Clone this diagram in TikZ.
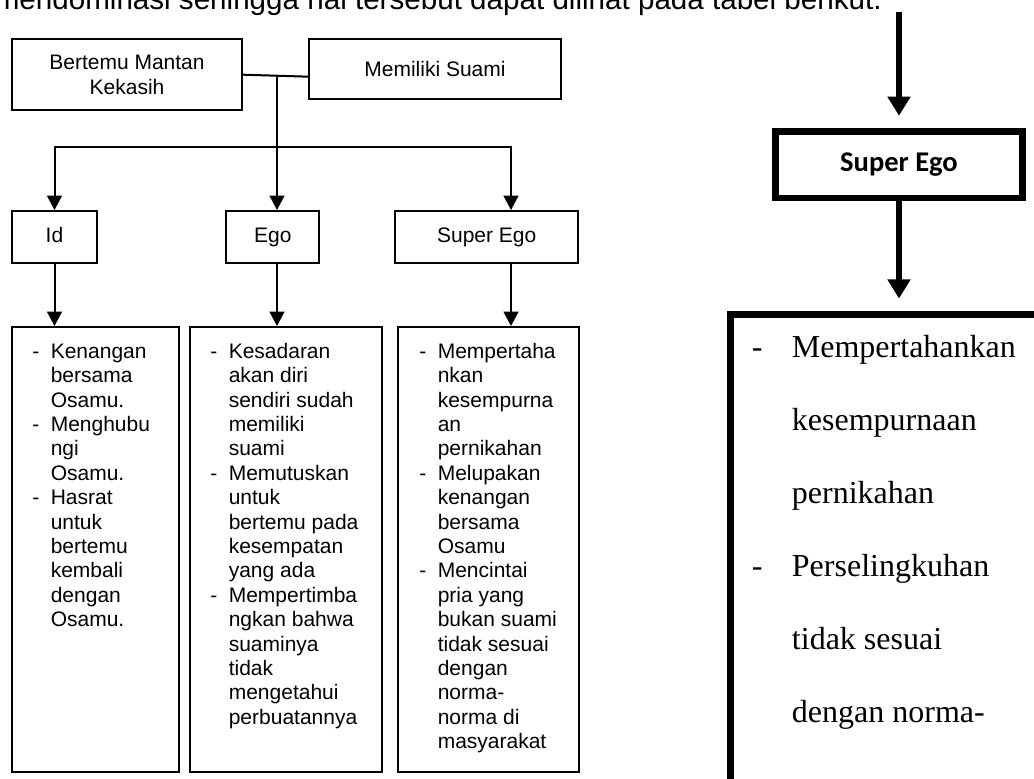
\documentclass[tikz,border=0pt]{standalone}
\usepackage{fontspec}
\setmainfont{Liberation Sans}
\newfontfamily\tnrfont{Liberation Serif}
\newfontfamily\carlfont{Carlito}
\usetikzlibrary{arrows.meta,calc}
\newcommand{\dl}[1]{\makebox[13.9pt][l]{-}#1}
\newcommand{\il}[1]{\makebox[13.9pt][l]{}#1}
\newcommand{\dr}[1]{\makebox[30pt][l]{-}#1}
\newcommand{\ir}[1]{\makebox[30pt][l]{}#1}
\begin{document}
\begin{tikzpicture}[x=0.75pt,y=-0.75pt,
  box/.style={draw, line width=1.5pt, inner sep=0pt, align=center,
    font=\fontsize{15.75}{18.75}\selectfont},
  onebox/.style={box, text height=11.28pt, text depth=3pt},
  lbox/.style={draw, line width=1.5pt, inner sep=0pt},
  ltext/.style={anchor=north west, inner sep=0pt, align=left,
    font=\fontsize{15.75}{18.3}\selectfont},
  thinline/.style={line width=1.5pt},
  arr/.style={line width=1.5pt, -{Triangle[width=11pt,length=10.7pt]}},
  bigarr/.style={line width=5pt, -{Triangle[width=16.5pt,length=14.25pt]}}]
\useasboundingbox (0,0) rectangle (1034,778);
\clip (0,0) rectangle (1034,778);

% title (cut off at the top)
\node[anchor=base east, inner sep=0pt, font=\fontsize{22.2}{26}\selectfont] (title) at (882,9)
  {mendominasi sehingga hal tersebut dapat dilihat pada tabel berikut.};

% top row
\node[box, minimum width=172.5pt, minimum height=53pt] (bm) at (127,74.7) {Bertemu Mantan\\Kekasih};
\node[box, minimum width=189pt, minimum height=44.8pt] (ms) at (435,69.2) {Memiliki Suami};

% second row
\node[onebox, minimum width=63.75pt, minimum height=39pt] (id) at (54.5,237) {Id};
\node[onebox, minimum width=70.1pt, minimum height=39pt] (ego) at (272.75,237) {Ego};
\node[onebox, minimum width=137.6pt, minimum height=39pt] (se) at (486.75,237) {Super Ego};

% bottom boxes
\node[lbox, minimum width=125.25pt, minimum height=333.75pt] (b1) at (95.5,549.5) {};
\node[lbox, minimum width=144pt, minimum height=333.75pt] (b2) at (286,549.5) {};
\node[lbox, minimum width=135.75pt, minimum height=333.75pt] (b3) at (488.5,549.5) {};

\node[ltext] (t1) at (32,340.9) {\strut\dl{Kenangan}\\\il{bersama}\\\il{Osamu.}\\
  \dl{Menghubu}\\\il{ngi}\\\il{Osamu.}\\\dl{Hasrat}\\\il{untuk}\\\il{bertemu}\\
  \il{kembali}\\\il{dengan}\\\il{Osamu.}};
\node[ltext] (t2) at (210,340.9) {\strut\dl{Kesadaran}\\\il{akan diri}\\\il{sendiri sudah}\\
  \il{memiliki}\\\il{suami}\\\dl{Memutuskan}\\\il{untuk}\\\il{bertemu pada}\\
  \il{kesempatan}\\\il{yang ada}\\\dl{Mempertimba}\\\il{ngkan bahwa}\\\il{suaminya}\\
  \il{tidak}\\\il{mengetahui}\\\il{perbuatannya}};
\node[ltext] (t3) at (419,340.9) {\strut\dl{Mempertaha}\\\il{nkan}\\\il{kesempurna}\\
  \il{an}\\\il{pernikahan}\\\dl{Melupakan}\\\il{kenangan}\\\il{bersama}\\\il{Osamu}\\
  \dl{Mencintai}\\\il{pria yang}\\\il{bukan suami}\\\il{tidak sesuai}\\\il{dengan}\\
  \il{norma-}\\\il{norma di}\\\il{masyarakat}};

% connectors left
\coordinate (trunk) at (277,75.7);
\coordinate (bl) at (54.5,147);
\coordinate (br) at (511,147);
\draw[thinline] (bm.east) -- ([yshift=-5.6pt]ms.west);
\draw[arr] (trunk) -- (trunk |- ego.north);
\draw[arr] (trunk |- bl) -- (bl) -- (bl |- id.north);
\draw[arr] (trunk |- br) -- (br) -- (br |- se.north);
\draw[arr] (id.south) -- (id.south |- b1.north);
\draw[arr] (trunk |- ego.south) -- (trunk |- b2.north);
\draw[arr] (br |- se.south) -- (br |- b3.north);

% right part
\coordinate (ra) at (899,12);
\node[draw, line width=4.9pt, inner sep=0pt, minimum width=185.6pt, minimum height=49.9pt,
  font=\carlfont\bfseries\fontsize{21.4}{25}\selectfont] (sbig) at (899,164.5) {Super Ego};
\node[draw, line width=5.25pt, inner sep=0pt, minimum width=277.1pt, minimum height=401.6pt]
  (bigbox) at (915.25,582.25) {};
\draw[bigarr, shorten >=9.2pt] (ra) -- (sbig.north);
\draw[bigarr, shorten >=9.4pt] (sbig.south) -- (sbig.south |- bigbox.north);
\node[anchor=north west, inner sep=0pt, align=left,
  font=\tnrfont\fontsize{24}{54.75}\selectfont] (rt) at (751.7,305.9)
  {\strut\dr{Mempertahankan}\\\ir{kesempurnaan}\\\ir{pernikahan}\\
   \dr{Perselingkuhan}\\\ir{tidak sesuai}\\\ir{dengan norma-}};
\end{tikzpicture}
\end{document}
